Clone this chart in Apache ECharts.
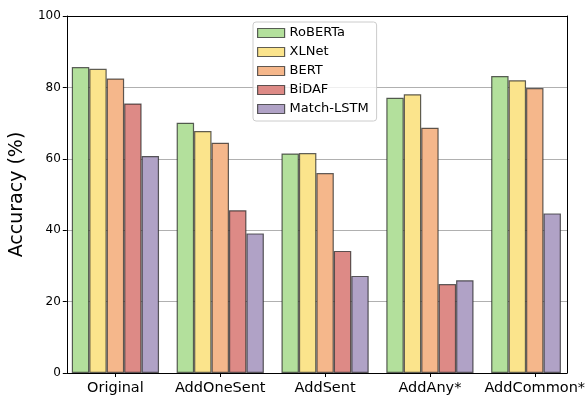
<!DOCTYPE html>
<html>
<head>
<meta charset="utf-8">
<script src="https://cdn.jsdelivr.net/npm/echarts@6/dist/echarts.min.js"></script>
<style>html,body{margin:0;padding:0;background:#fff;}#c{width:588px;height:400px;}</style>
</head>
<body>
<div id="c"></div>
<script>
const categories = ['Original', 'AddOneSent', 'AddSent', 'AddAny*', 'AddCommon*'];
const roberta = [85.7, 70.1, 61.5, 77.1, 83.2];
const xlnet = [85.2, 67.8, 61.6, 78.1, 82.0];
const bert = [82.5, 64.5, 56.0, 68.7, 79.8];
const bidaf = [75.5, 45.6, 34.2, 24.9, null];
const matchLstm = [60.8, 39.1, 27.2, 26.0, 44.7];
const yTicks = [0, 20, 40, 60, 80, 100];

const colors = {
  RoBERTa: '#b3e09c',
  XLNet: '#fbe48c',
  BERT: '#f5b78b',
  BiDAF: '#dd8a86',
  'Match-LSTM': '#b0a2c6'
};
const FONT = 'DejaVu Sans';
const edge = { borderColor: 'rgba(30,30,30,0.7)', borderWidth: 1.2 };

// In the source, the AddCommon* group has no BiDAF bar, and Match-LSTM takes its slot.
const bidafData = bidaf.map((v, i) => v == null
  ? { value: matchLstm[i], itemStyle: { color: colors['Match-LSTM'] } } : v);
const lstmData = matchLstm.map((v, i) => bidaf[i] == null ? null : v);

function bar(name, data) {
  return {
    name, type: 'bar', data, xAxisIndex: 2, yAxisIndex: 2,
    barGap: '0%', barCategoryGap: '16.8%',
    itemStyle: Object.assign({ color: colors[name] }, edge),
    emphasis: { disabled: true }
  };
}
const spine = { show: true, onZero: false, lineStyle: { color: '#000', width: 1 } };

const chart = echarts.init(document.getElementById('c'), null, { renderer: 'canvas' });
chart.setOption({
  animation: false,
  textStyle: { fontFamily: FONT },
  grid: [
    { left: 63, right: 21, top: 16, bottom: 27 },
    { left: 63, right: 0, top: 16, bottom: 27 }
  ],
  legend: {
    orient: 'vertical', left: 253, top: 22,
    padding: [4, 8, 5, 4],
    itemWidth: 27, itemHeight: 9, itemGap: 5,
    icon: 'rect',
    backgroundColor: 'rgba(255,255,255,0.8)',
    borderColor: '#cccccc', borderWidth: 1, borderRadius: 3,
    textStyle: { fontFamily: FONT, fontSize: 13, color: '#000', lineHeight: 14, padding: [0, 0, 0, 0] },
    itemStyle: edge,
    data: ['RoBERTa', 'XLNet', 'BERT', 'BiDAF', 'Match-LSTM']
  },
  xAxis: [
    { gridIndex: 0, type: 'value', min: 0, max: 1, position: 'bottom',
      axisLine: spine,
      axisTick: { show: false }, axisLabel: { show: false }, splitLine: { show: false } },
    { gridIndex: 0, type: 'value', min: 0, max: 1, position: 'top',
      axisLine: spine,
      axisTick: { show: false }, axisLabel: { show: false }, splitLine: { show: false } },
    { gridIndex: 1, type: 'category', data: categories, position: 'bottom',
      axisLine: { show: false },
      axisTick: { show: true, alignWithLabel: true, length: 4, lineStyle: { color: '#000' } },
      axisLabel: { fontFamily: FONT, fontSize: 14.5, color: '#000', margin: 8, interval: 0 },
      splitLine: { show: false } }
  ],
  yAxis: [
    { gridIndex: 0, type: 'value', min: 0, max: 100, interval: 20, position: 'left',
      name: 'Accuracy (%)', nameLocation: 'middle', nameGap: 38,
      nameTextStyle: { fontFamily: FONT, fontSize: 19, color: '#000' },
      axisLine: spine,
      axisTick: { show: true, length: 4, lineStyle: { color: '#000' } },
      axisLabel: { fontFamily: FONT, fontSize: 12, color: '#000', margin: 6,
        formatter: v => yTicks.includes(v) ? String(v) : '' },
      splitLine: { show: true, lineStyle: { color: '#b0b0b0', width: 1 } } },
    { gridIndex: 0, type: 'value', min: 0, max: 100, position: 'right',
      axisLine: spine,
      axisTick: { show: false }, axisLabel: { show: false }, splitLine: { show: false } },
    { gridIndex: 1, type: 'value', min: 0, max: 100, show: false }
  ],
  series: [
    bar('RoBERTa', roberta),
    bar('XLNet', xlnet),
    bar('BERT', bert),
    bar('BiDAF', bidafData),
    bar('Match-LSTM', lstmData)
  ]
});
</script>
</body>
</html>
